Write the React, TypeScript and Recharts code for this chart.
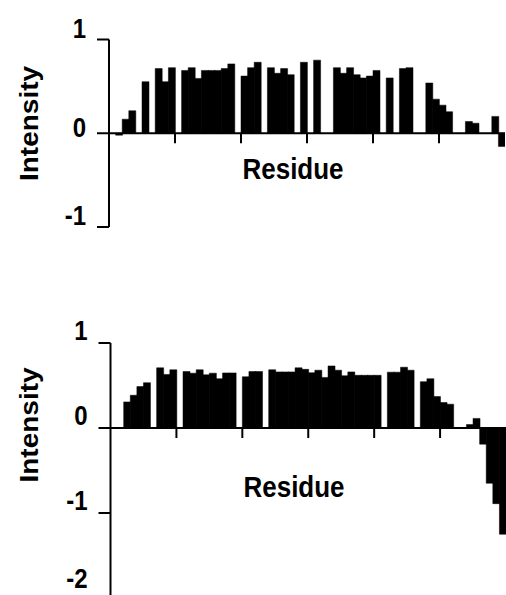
import React from "react";
import { BarChart, Bar, XAxis, YAxis, ReferenceLine } from "recharts";

// Residue numbers along the sequence
const residues = Array.from({ length: 60 }, (_, i) => i + 1);

// Upper panel intensities (per residue)
const topIntensity = [
  0, -0.02, 0.15, 0.24, 0, 0.55, 0, 0.69, 0.55, 0.7,
  0, 0.67, 0.7, 0.585, 0.67, 0.67, 0.67, 0.69, 0.74, 0,
  0.61, 0.7, 0.757, 0, 0.7, 0.64, 0.69, 0.625, 0, 0.757,
  0, 0.78, 0, 0, 0.7, 0.64, 0.7, 0.625, 0.59, 0.61,
  0.67, 0, 0.59, 0, 0.69, 0.7, 0, 0, 0.536, 0.364,
  0.3, 0.23, 0, 0, 0.125, 0.107, 0, 0, 0.18, -0.14,
];

// Lower panel intensities (per residue)
const bottomIntensity = [
  0, 0, 0.307, 0.385, 0.487, 0.533, 0, 0.708, 0.63, 0.685,
  0, 0.665, 0.645, 0.685, 0.626, 0.645, 0.58, 0.648, 0.648, 0,
  0.603, 0.665, 0.665, 0, 0.685, 0.66, 0.66, 0.66, 0.708, 0.69,
  0.65, 0.68, 0.595, 0.73, 0.68, 0.615, 0.66, 0.62, 0.62, 0.62,
  0.62, 0, 0.657, 0.657, 0.715, 0.68, 0, 0.545, 0.58, 0.37,
  0.3, 0.28, 0, 0, 0.04, 0.113, -0.19, -0.65, -0.89, -1.25,
];

const xTickResidues = [10, 20, 30, 40, 50];
const topYTicks = [-1, 0, 1];
const bottomYTicks = [-2, -1, 0, 1];
const yTitle = "Intensity";
const xTitle = "Residue";

const FONT = "'Liberation Sans', Arial, Helvetica, sans-serif";
const STRETCH = 1.12;

function YTick(props: any) {
  const { x, y, payload, lift } = props;
  const cy = y - lift;
  return (
    <text
      x={x}
      y={cy}
      textAnchor="end"
      dominantBaseline="central"
      fontFamily={FONT}
      fontWeight="bold"
      fontSize={24}
      fill="#000"
      transform={`translate(0 ${cy}) scale(1 ${STRETCH}) translate(0 ${-cy})`}
    >
      {payload.value}
    </text>
  );
}

function VTitle(props: any) {
  const { bx, cy, text } = props;
  return (
    <text
      x={0}
      y={0}
      textAnchor="middle"
      fontFamily={FONT}
      fontWeight="bold"
      fontSize={25}
      fill="#000"
      transform={`translate(${bx} ${cy}) scale(1 ${STRETCH}) rotate(-90)`}
    >
      {text}
    </text>
  );
}

function HTitle(props: any) {
  const { cx, by, text } = props;
  return (
    <text
      x={0}
      y={0}
      textAnchor="middle"
      fontFamily={FONT}
      fontWeight="bold"
      fontSize={26}
      fill="#000"
      transform={`translate(${cx} ${by}) scale(1 ${STRETCH})`}
    >
      {text}
    </text>
  );
}

type PanelProps = {
  values: number[];
  domain: [number, number];
  yTicks: number[];
  height: number;
  margin: { top: number; right: number; bottom: number; left: number };
  tickLift: (v: number) => number;
  tickLen: number;
  vTitle: { bx: number; cy: number };
  hTitle: { cx: number; by: number };
};

function LiftTick(props: any) {
  const { liftFn, payload } = props;
  return <YTick {...props} lift={liftFn(payload.value)} />;
}

function Panel({ values, domain, yTicks, height, margin, tickLift, tickLen, vTitle, hTitle }: PanelProps) {
  const data = residues.map((r, i) => ({ residue: r, intensity: values[i] }));
  return (
    <BarChart width={506} height={height} data={data} margin={margin} barGap={0} barCategoryGap={0}>
      <XAxis type="number" dataKey="residue" domain={[0.5, 60.5]} hide height={0} allowDataOverflow />
      <YAxis
        type="number"
        domain={domain}
        ticks={yTicks}
        interval={0}
        width={60}
        tickSize={12}
        tickMargin={11}
        axisLine={{ stroke: "#000", strokeWidth: 2 }}
        tickLine={{ stroke: "#000", strokeWidth: 2 }}
        tick={<LiftTick liftFn={tickLift} />}
        label={<VTitle bx={vTitle.bx} cy={vTitle.cy} text={yTitle} />}
        allowDataOverflow
      />
      <Bar
        dataKey="intensity"
        fill="#000"
        stroke="#000"
        strokeWidth={0.5}
        isAnimationActive={false}
      />
      <ReferenceLine
        y={0}
        stroke="#000"
        strokeWidth={2}
        label={<HTitle cx={hTitle.cx} by={hTitle.by} text={xTitle} />}
      />
      {xTickResidues.map((t) => (
        <ReferenceLine
          key={t}
          segment={[
            { x: t + 0.5, y: 0 },
            { x: t + 0.5, y: -tickLen },
          ]}
          stroke="#000"
          strokeWidth={2}
        />
      ))}
    </BarChart>
  );
}

export default function App() {
  return (
    <div
      style={{
        position: "fixed",
        left: 0,
        top: 0,
        width: 506,
        height: 595,
        overflow: "hidden",
        background: "#fff",
      }}
    >
      <Panel
        values={topIntensity}
        domain={[-1, 1]}
        yTicks={topYTicks}
        height={300}
        margin={{ top: 39.5, right: 1, bottom: 73, left: 49 }}
        tickLift={(v) => (v === 0 ? 6 : 11)}
        tickLen={0.106}
        vTitle={{ bx: 38, cy: 123.5 }}
        hTitle={{ cx: 293, by: 179 }}
      />
      <Panel
        values={bottomIntensity}
        domain={[-2, 1]}
        yTicks={bottomYTicks}
        height={295}
        margin={{ top: 43, right: 0, bottom: -3, left: 50.5 }}
        tickLift={(v) => (v === -2 ? 19 : 12)}
        tickLen={0.118}
        vTitle={{ bx: 38, cy: 125 }}
        hTitle={{ cx: 294, by: 197 }}
      />
    </div>
  );
}
